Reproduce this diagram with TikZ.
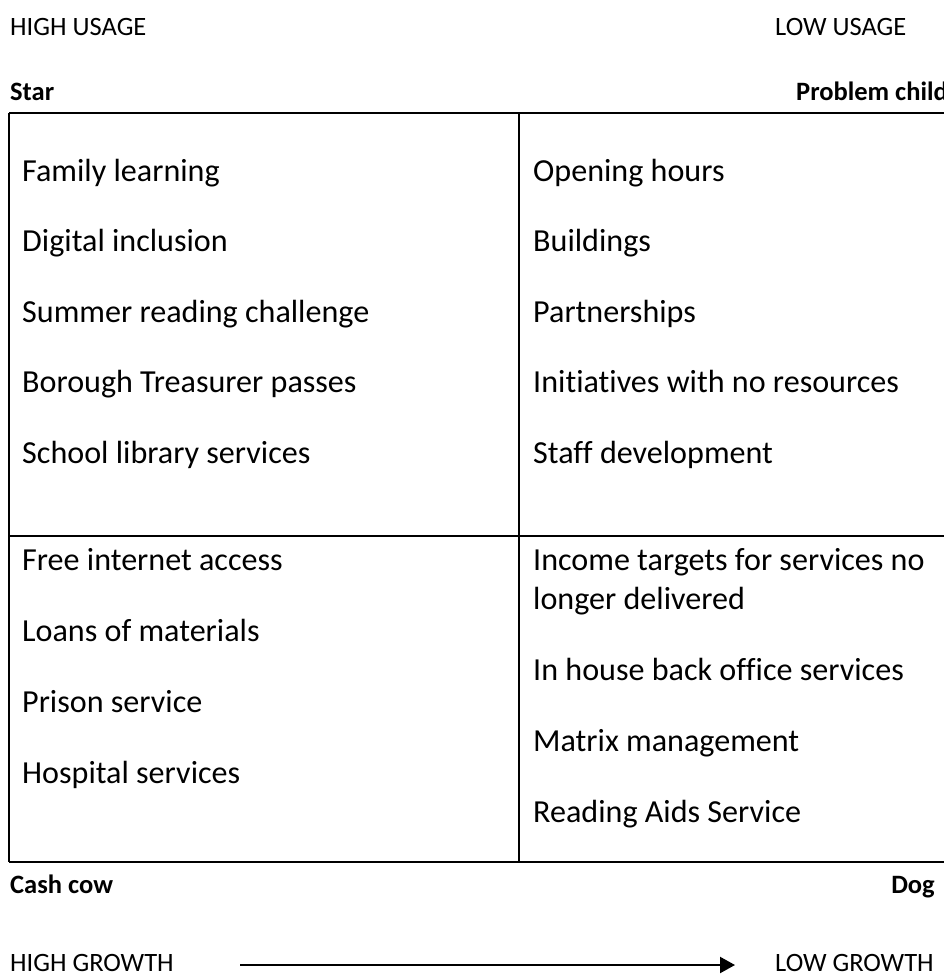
\documentclass[tikz,border=0pt]{standalone}
\usepackage{fontspec}
\setmainfont{Carlito}[Ligatures={NoCommon}]
\usetikzlibrary{arrows.meta}

\tikzset{
  item/.style={anchor=base west, inner sep=0pt, font=\fontsize{32.1}{39}\selectfont},
  axislabel/.style={anchor=base west, inner sep=0pt, font=\fontsize{26.5}{31}\selectfont},
  quadlabel/.style={anchor=base west, inner sep=0pt, font=\fontsize{26.5}{31}\selectfont\bfseries},
  frame/.style={line width=2.4pt},
  divider/.style={line width=1.7pt},
  growth/.style={line width=2.2pt, -{Triangle[length=15pt,width=16pt]}}
}

\begin{document}
\begin{tikzpicture}[x=1pt,y=-1pt]
  \useasboundingbox (0,0) rectangle (944,974);
  \clip (0,0) rectangle (944,974);

  % usage axis labels
  \node[axislabel] (highusage) at (10,36) {HIGH USAGE};
  \node[axislabel] (lowusage) at (775,36) {LOW USAGE};

  % quadrant names above the grid
  \node[quadlabel] (star) at (10,100) {Star};
  \node[quadlabel, anchor=base east] (problem) at (948,100) {Problem child};

  % the grid
  \draw[frame] (9,113) -- (960,113);
  \draw[frame] (9,862) -- (960,862);
  \draw[frame] (9,113) -- (9,862);
  \draw[divider] (519,113) -- (519,862);
  \draw[divider] (9,536) -- (960,536);

  % Star quadrant
  \node[item] (s1) at (22,181) {Family learning};
  \node[item] (s2) at (22,251.5) {Digital inclusion};
  \node[item] (s3) at (22,322) {Summer reading challenge};
  \node[item] (s4) at (22,392.5) {Borough Treasurer passes};
  \node[item] (s5) at (22,463) {School library services};

  % Problem child quadrant
  \node[item] (p1) at (533,181) {Opening hours};
  \node[item] (p2) at (533,251.5) {Buildings};
  \node[item] (p3) at (533,322) {Partnerships};
  \node[item] (p4) at (533,392.5) {Initiatives with no resources};
  \node[item] (p5) at (533,463) {Staff development};

  % Cash cow quadrant
  \node[item] (c1) at (22,570) {Free internet access};
  \node[item] (c2) at (22,641) {Loans of materials};
  \node[item] (c3) at (22,712) {Prison service};
  \node[item] (c4) at (22,783) {Hospital services};

  % Dog quadrant
  \node[item] (d1a) at (533,570) {Income targets for services no};
  \node[item] (d1b) at (533,609) {longer delivered};
  \node[item] (d2) at (533,680) {In house back office services};
  \node[item] (d3) at (533,751) {Matrix management};
  \node[item] (d4) at (533,822) {Reading Aids Service};

  % quadrant names below the grid
  \node[quadlabel] (cashcow) at (10,893) {Cash cow};
  \node[quadlabel, anchor=base east] (dog) at (935,893) {Dog};

  % growth axis
  \node[axislabel] (highgrowth) at (10,971) {HIGH GROWTH};
  \node[axislabel] (lowgrowth) at (775,971) {LOW GROWTH};
  \coordinate (growthstart) at (240,965);
  \coordinate (growthend) at (735,965);
  \draw[growth] (growthstart) -- (growthend);
\end{tikzpicture}
\end{document}
